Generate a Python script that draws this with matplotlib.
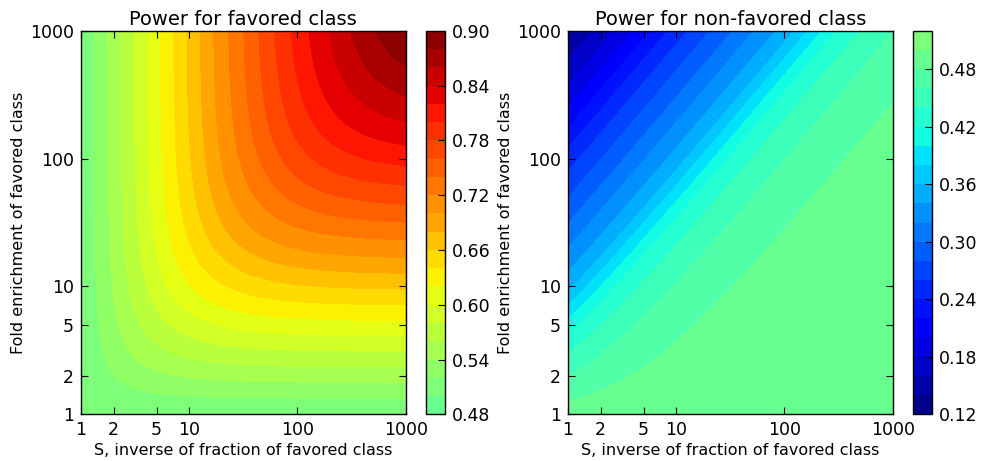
import numpy as np
import matplotlib
matplotlib.use('Agg')
import matplotlib.pyplot as plt
from matplotlib.colors import Normalize

# ---------------- data ----------------
axis_ticks = [1, 2, 5, 10, 100, 1000]
axis_tick_labels = ['1', '2', '5', '10', '100', '1000']

levels_fav = [0.48, 0.50, 0.52, 0.54, 0.56, 0.58, 0.60, 0.62, 0.64, 0.66, 0.68,
              0.70, 0.72, 0.74, 0.76, 0.78, 0.80, 0.82, 0.84, 0.86, 0.88, 0.90]
levels_non = [0.12, 0.14, 0.16, 0.18, 0.20, 0.22, 0.24, 0.26, 0.28, 0.30, 0.32,
              0.34, 0.36, 0.38, 0.40, 0.42, 0.44, 0.46, 0.48, 0.50, 0.52]
cbar_ticks_fav = [0.48, 0.54, 0.60, 0.66, 0.72, 0.78, 0.84, 0.90]
cbar_ticks_non = [0.12, 0.18, 0.24, 0.30, 0.36, 0.42, 0.48]

# favored class: values read along the top edge (enrichment = 1000)
fav_top_S = [1.0, 1.337, 1.776, 2.343, 3.111, 4.104, 5.411, 7.187, 9.54, 12.67,
             16.83, 23.17, 31.87, 43.85, 61.65, 87.9, 127.2, 194.5, 308.5, 525.2, 1000.0]
fav_top_val = [0.505, 0.52, 0.54, 0.56, 0.58, 0.60, 0.62, 0.64, 0.66, 0.68,
               0.70, 0.72, 0.74, 0.76, 0.78, 0.80, 0.82, 0.84, 0.86, 0.88, 0.899]
fav_top_E = 1000.0

# non-favored class: values read against (enrichment - 1) / S
non_ratio = [0.0, 0.27, 0.97, 2.0, 3.3, 9.0, 30.0, 99.0, 300.0, 999.0]
non_val = [0.497, 0.48, 0.46, 0.44, 0.42, 0.352, 0.30, 0.25, 0.19, 0.135]

# ---------------- field on the plotting grid ----------------
S = np.logspace(0, 3, 400)
E = np.logspace(0, 3, 400)
SS, EE = np.meshgrid(S, E)

u = SS * EE / (SS + EE - 1.0)
S_nodes = np.array(fav_top_S)
u_nodes = S_nodes * fav_top_E / (S_nodes + fav_top_E - 1.0)
Z_fav = np.interp(np.log10(u), np.log10(u_nodes), fav_top_val)

w = (EE - 1.0) / SS
Z_non = np.interp(np.log10(1.0 + w), np.log10(1.0 + np.array(non_ratio)), non_val)

# ---------------- figure ----------------
plt.rcParams['font.family'] = ['DejaVu Sans']
plt.rcParams['xtick.direction'] = 'in'
plt.rcParams['ytick.direction'] = 'in'
plt.rcParams['xtick.top'] = True
plt.rcParams['ytick.right'] = True

fig = plt.figure(figsize=(9.9, 4.61), dpi=100)
norm = Normalize(vmin=0.12, vmax=0.90)

ax1 = fig.add_axes([0.0818, 0.1013, 0.328, 0.832])
cax1 = fig.add_axes([0.430, 0.1013, 0.0195, 0.832])
ax2 = fig.add_axes([0.5737, 0.1013, 0.328, 0.832])
cax2 = fig.add_axes([0.922, 0.1013, 0.0198, 0.832])

panels = [
    (ax1, cax1, Z_fav, levels_fav, cbar_ticks_fav, 'Power for favored class'),
    (ax2, cax2, Z_non, levels_non, cbar_ticks_non, 'Power for non-favored class'),
]

for ax, cax, Z, lev, cticks, title in panels:
    cs = ax.contourf(SS, EE, Z, levels=lev, cmap='jet', norm=norm)
    ax.set_xscale('log')
    ax.set_yscale('log')
    ax.set_xlim(1, 1000)
    ax.set_ylim(1, 1000)
    ax.set_xticks(axis_ticks)
    ax.set_xticklabels(axis_tick_labels)
    ax.set_yticks(axis_ticks)
    ax.set_yticklabels(axis_tick_labels)
    ax.minorticks_off()
    ax.tick_params(axis='both', which='major', labelsize=12.5, length=5,
                   width=0.8, colors='black', pad=5)
    for sp in ax.spines.values():
        sp.set_linewidth(1.0)
    ax.set_title(title, fontsize=14, pad=4)
    ax.set_xlabel('S, inverse of fraction of favored class', fontsize=11.5, labelpad=3)
    ax.set_ylabel('Fold enrichment of favored class', fontsize=11.5, labelpad=3)

    cb = fig.colorbar(cs, cax=cax, ticks=cticks, format='%.2f')
    cb.ax.tick_params(direction='in', length=5, width=0.8, labelsize=12.5, pad=5)
    cb.outline.set_linewidth(1.0)

fig.savefig('out.png', dpi=100, facecolor='white')
